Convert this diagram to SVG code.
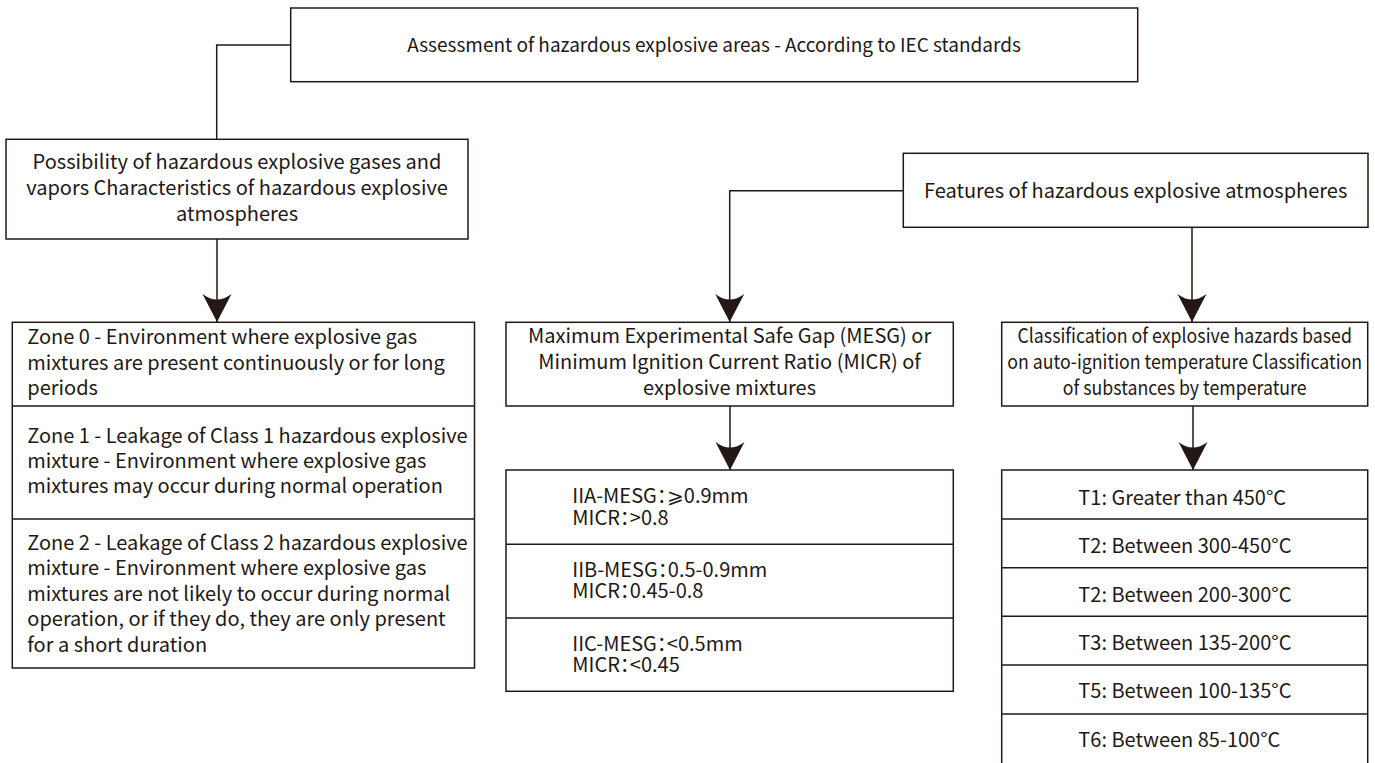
<svg xmlns="http://www.w3.org/2000/svg" width="1375" height="763" viewBox="0 0 1375 763">
<style>
.box{fill:#fff;stroke:#231815;stroke-width:1.5}
.ln{fill:none;stroke:#231815;stroke-width:1.5}
text{font-family:"Noto Sans CJK SC","Noto Sans",sans-serif;font-size:20px;fill:#231815}
.c{text-anchor:middle}
.p{font-feature-settings:"palt"}
</style>
<defs>
<marker id="ah" markerUnits="userSpaceOnUse" viewBox="-30 -16 32 32" refX="0" refY="0" markerWidth="32" markerHeight="32" orient="auto">
<path d="M0,0 L-28,-14.5 Q-17,0 -28,14.5 Z" fill="#231815"/>
</marker>
</defs>
<rect width="1375" height="763" fill="#fff"/>
<g id="connectors">
<path class="ln" d="M290.7,45 H216.7 V139.3"/>
<path class="ln" d="M217,239 V322" marker-end="url(#ah)"/>
<path class="ln" d="M903.3,190.7 H729.7 V322" marker-end="url(#ah)"/>
<path class="ln" d="M1192,227.3 V322" marker-end="url(#ah)"/>
<path class="ln" d="M730,406 V470" marker-end="url(#ah)"/>
<path class="ln" d="M1193,406 V470" marker-end="url(#ah)"/>
</g>
<g id="n-top">
<rect class="box" x="290.7" y="8" width="847" height="73.7"/>
<text class="c" x="714" y="52" style="font-size:19px">Assessment of hazardous explosive areas - According to IEC standards</text>
</g>
<g id="n-possibility">
<rect class="box" x="6" y="139.3" width="462" height="99.7"/>
<text class="c" x="237" y="169.3">Possibility of hazardous explosive gases and<tspan x="237" dy="25.7">vapors Characteristics of hazardous explosive</tspan><tspan x="237" dy="25.5">atmospheres</tspan></text>
</g>
<g id="n-zones">
<rect class="box" x="12.3" y="322.3" width="462.2" height="345.7"/>
<path class="ln" d="M12.3,406 H474.5 M12.3,519 H474.5"/>
<text x="27.3" y="344.3">Zone 0 - Environment where explosive gas<tspan x="27.3" dy="25.7">mixtures are present continuously or for long</tspan><tspan x="27.3" dy="25.3">periods</tspan></text>
<text x="27.3" y="442.7">Zone 1 - Leakage of Class 1 hazardous explosive<tspan x="27.3" dy="25.2">mixture - Environment where explosive gas</tspan><tspan x="27.3" dy="25.4">mixtures may occur during normal operation</tspan></text>
<text x="27.3" y="550">Zone 2 - Leakage of Class 2 hazardous explosive<tspan x="27.3" dy="25.3">mixture - Environment where explosive gas</tspan><tspan x="27.3" dy="25.4">mixtures are not likely to occur during normal</tspan><tspan x="27.3" dy="25.3">operation, or if they do, they are only present</tspan><tspan x="27.3" dy="25.5">for a short duration</tspan></text>
</g>
<g id="n-features">
<rect class="box" x="903.3" y="153.3" width="464.7" height="74"/>
<text class="c" x="1135.6" y="197.5">Features of hazardous explosive atmospheres</text>
</g>
<g id="n-mesg">
<rect class="box" x="506" y="322.3" width="447.3" height="83.7"/>
<text class="c" x="729.6" y="343.3">Maximum Experimental Safe Gap (MESG) or<tspan x="729.6" dy="26">Minimum Ignition Current Ratio (MICR) of</tspan><tspan x="729.6" dy="25.7">explosive mixtures</tspan></text>
</g>
<g id="n-mesg-values">
<rect class="box" x="506" y="470" width="447.3" height="221.3"/>
<path class="ln" d="M506,544.3 H953.3 M506,618 H953.3"/>
<text class="p" x="572.3" y="503.3">IIA-MESG：⩾0.9mm<tspan x="572.3" dy="21.7">MICR：&gt;0.8</tspan></text>
<text class="p" x="572.3" y="576.7">IIB-MESG：0.5-0.9mm<tspan x="572.3" dy="21.6">MICR：0.45-0.8</tspan></text>
<text class="p" x="572.3" y="650.7">IIC-MESG：&lt;0.5mm<tspan x="572.3" dy="21.6">MICR：&lt;0.45</tspan></text>
</g>
<g id="n-temp">
<rect class="box" x="1001.7" y="322.3" width="366" height="83.7"/>
<text class="c" transform="translate(1184.7,343.3) scale(0.887,1)" x="0" y="0">Classification of explosive hazards based<tspan x="0" dy="26">on auto-ignition temperature Classification</tspan><tspan x="0" dy="25.7">of substances by temperature</tspan></text>
</g>
<g id="n-temp-classes">
<path class="box" d="M1001.7,764 V470 H1367.7 V764"/>
<path class="ln" d="M1001.7,519 H1367.7 M1001.7,567.7 H1367.7 M1001.7,616.3 H1367.7 M1001.7,665 H1367.7 M1001.7,714 H1367.7"/>
<text x="1078.3" y="505">T1: Greater than 450°C</text>
<text x="1078.3" y="553.3">T2: Between 300-450°C</text>
<text x="1078.3" y="602">T2: Between 200-300°C</text>
<text x="1078.3" y="650">T3: Between 135-200°C</text>
<text x="1078.3" y="698.3">T5: Between 100-135°C</text>
<text x="1078.3" y="746.7">T6: Between 85-100°C</text>
</g>
</svg>
